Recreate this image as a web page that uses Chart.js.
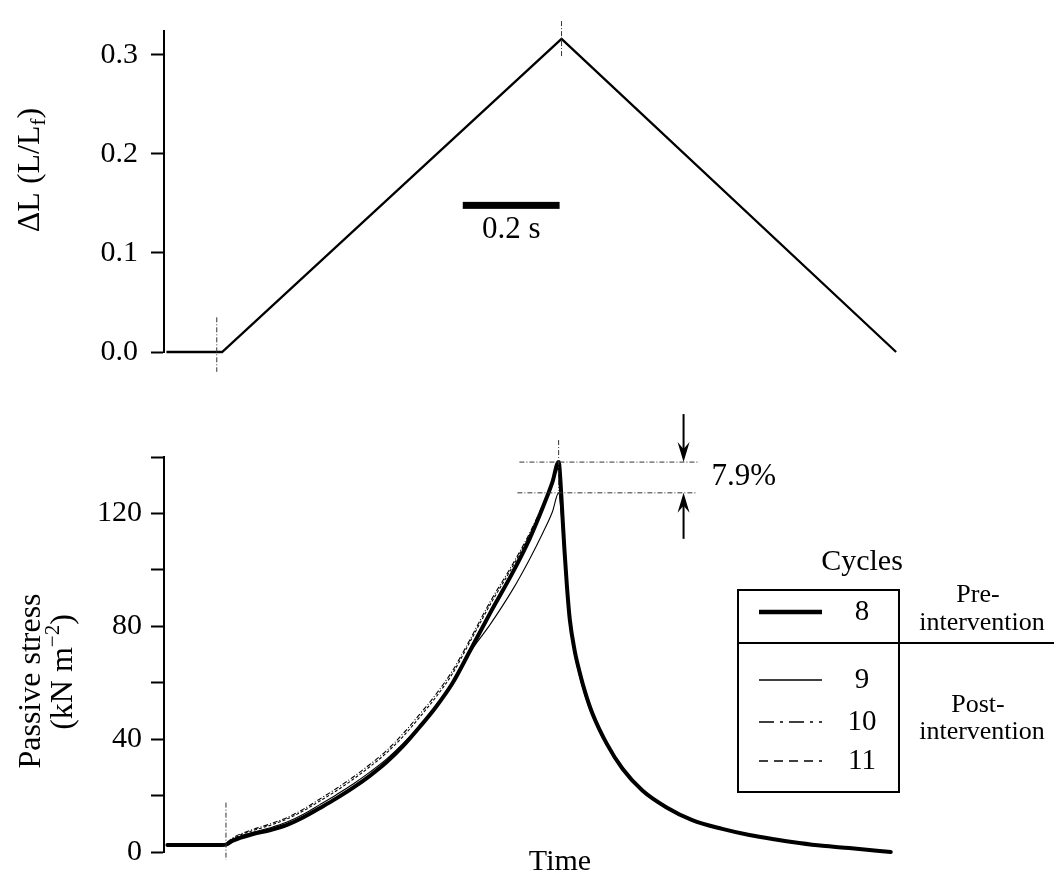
<!DOCTYPE html>
<html>
<head>
<meta charset="utf-8">
<script src="https://cdn.jsdelivr.net/npm/chart.js@4.4.0/dist/chart.umd.min.js"></script>
<style>
  html, body { margin: 0; padding: 0; background: #fff; }
  #wrap { position: relative; width: 1054px; height: 880px; }
  .panel { position: absolute; left: 0; width: 1054px; }
  #top { top: 0; height: 400px; }
  #bottom { top: 400px; height: 480px; }
</style>
</head>
<body>
<div id="wrap">
  <div class="panel" id="top"><canvas id="lengthChart"></canvas></div>
  <div class="panel" id="bottom"><canvas id="stressChart"></canvas></div>
</div>
<script>
// ---- Length step (upper panel) ----
const lengthTime   = [-0.115, 0.000, 0.701, 1.392];   // s
const lengthValues = [0.000, 0.000, 0.316, 0.000];     // ΔL (L/Lf)
const lengthTicks  = [0, 0.1, 0.2, 0.3];

// ---- Passive stress (lower panel), kN m^-2 ----
const stressTime = [-0.113, 0.000, 0.008, 0.022, 0.037, 0.064, 0.100, 0.134, 0.168, 0.202,
                    0.236, 0.270, 0.305, 0.340, 0.374, 0.408, 0.442, 0.476, 0.511, 0.553,
                    0.600, 0.635, 0.662, 0.682, 0.695, 0.700, 0.703, 0.707, 0.712, 0.718,
                    0.728, 0.738, 0.750, 0.765, 0.794, 0.827, 0.868, 0.918, 0.971, 1.033,
                    1.089, 1.140, 1.192, 1.240, 1.295, 1.381];
const cycle8  = [2.5, 2.5, 2.6, 4.0, 5.0, 6.4, 7.8, 9.6, 12.3, 15.6,
                 19.0, 22.7, 27.0, 31.9, 37.6, 44.3, 51.5, 59.9, 71.0, 84.5,
                 99.0, 111.0, 122.0, 131.0, 138.2, 128.0, 118.8, 107.1, 94.5, 82.5,
                 71.5, 64.0, 56.5, 49.0, 38.5, 29.5, 21.8, 15.8, 11.3, 8.2,
                 6.0, 4.5, 3.2, 2.2, 1.4, 0.0];
const cycle9  = [2.8, 2.8, 3.0, 4.5, 5.6, 7.0, 8.6, 10.6, 13.4, 16.8,
                 20.3, 24.0, 28.3, 33.0, 38.5, 44.8, 51.6, 59.5, 70.5, 80.5,
                 93.0, 103.8, 113.0, 120.5, 127.3, 121.0, 114.0, 104.0, 92.5, 80.5,
                 70.0, 62.5, 55.2, 48.0, 37.8, 29.0, 21.4, 15.5, 11.1, 8.1,
                 5.9, 4.4, 3.1, 2.1, 1.3, 0.0];
const cycle10 = [2.9, 2.9, 3.2, 5.0, 6.3, 8.0, 10.0, 12.2, 15.2, 18.8,
                 22.5, 26.5, 31.0, 36.0, 42.0, 48.8, 56.0, 64.3, 75.0, 88.5,
                 102.0, 113.0, 123.0, 131.5, 137.6, 127.5, 118.0, 106.5, 94.2, 82.3,
                 71.4, 63.9, 56.4, 48.9, 38.4, 29.4, 21.7, 15.8, 11.2, 8.2,
                 6.0, 4.5, 3.2, 2.2, 1.4, 0.0];
const cycle11 = [2.7, 2.7, 3.1, 4.7, 6.0, 7.6, 9.5, 11.7, 14.6, 18.1,
                 21.7, 25.7, 30.2, 35.2, 41.0, 47.8, 55.0, 63.3, 74.2, 87.5,
                 101.2, 112.4, 122.6, 131.2, 137.9, 127.8, 118.4, 106.8, 94.4, 82.4,
                 71.5, 64.0, 56.5, 49.0, 38.5, 29.5, 21.8, 15.8, 11.3, 8.2,
                 6.0, 4.5, 3.2, 2.2, 1.4, 0.0];
const stressTicks  = [0, 20, 40, 60, 80, 100, 120, 140];
const stressLabels = ['0', '', '40', '', '80', '', '120', ''];
const cycleNames   = ['8', '9', '10', '11'];

const SERIF = '"Liberation Serif", "Times New Roman", serif';
const FS = 30;        // tick labels, axis text
const FS_TITLE = 32;  // rotated axis titles
const FS_SIDE = 26;   // legend group notes
const X_MIN = -0.12, X_MAX = 1.40;

function pts(xs, ys) { return xs.map((x, i) => ({ x: x, y: ys[i] })); }

// text made of runs of different size / vertical shift (sub/superscripts)
function drawRich(ctx, parts, cx, cy, rotate) {
  ctx.save();
  ctx.translate(cx, cy);
  if (rotate) ctx.rotate(-Math.PI / 2);
  let total = 0;
  parts.forEach(p => { ctx.font = p.size + 'px ' + SERIF; p.w = ctx.measureText(p.text).width; total += p.w; });
  let x = -total / 2;
  ctx.fillStyle = '#000';
  ctx.textAlign = 'left';
  ctx.textBaseline = 'alphabetic';
  parts.forEach(p => {
    ctx.font = p.size + 'px ' + SERIF;
    ctx.fillText(p.text, x, 10 + (p.dy || 0));
    x += p.w;
  });
  ctx.restore();
}

function text(ctx, str, x, y, align, size) {
  ctx.save();
  ctx.font = (size || FS) + 'px ' + SERIF;
  ctx.fillStyle = '#000';
  ctx.textAlign = align || 'center';
  ctx.textBaseline = 'middle';
  ctx.fillText(str, x, y);
  ctx.restore();
}

function dashDot(ctx, x1, y1, x2, y2) {
  ctx.save();
  ctx.strokeStyle = '#333';
  ctx.lineWidth = 1;
  ctx.setLineDash([5, 2, 1, 2]);
  ctx.beginPath();
  ctx.moveTo(x1, y1);
  ctx.lineTo(x2, y2);
  ctx.stroke();
  ctx.restore();
}

function arrow(ctx, x, yFrom, yTo) {
  const dir = yTo > yFrom ? 1 : -1;
  ctx.save();
  ctx.strokeStyle = '#000';
  ctx.fillStyle = '#000';
  ctx.lineWidth = 2;
  ctx.beginPath();
  ctx.moveTo(x, yFrom);
  ctx.lineTo(x, yTo - dir * 10);
  ctx.stroke();
  ctx.beginPath();
  ctx.moveTo(x, yTo);
  ctx.lineTo(x - 6, yTo - dir * 20);
  ctx.lineTo(x, yTo - dir * 13);
  ctx.lineTo(x + 6, yTo - dir * 20);
  ctx.closePath();
  ctx.fill();
  ctx.restore();
}

function yAxis(min, max, tickList, labelFn, pad) {
  return {
    type: 'linear', min: min, max: max,
    afterBuildTicks: s => { s.ticks = tickList.map(v => ({ value: v })); },
    afterFit: s => { s.width = 164; },
    border: { display: true, color: '#000', width: 2 },
    grid: { display: true, drawOnChartArea: false, drawTicks: true, tickLength: 13, tickWidth: 2, tickColor: '#000' },
    ticks: { color: '#000', padding: pad, font: { family: SERIF, size: FS }, callback: labelFn }
  };
}

const xAxis = { type: 'linear', display: false, min: X_MIN, max: X_MAX };

// ---- upper panel decorations ----
const lengthDecor = {
  id: 'lengthDecor',
  afterDatasetsDraw(chart) {
    const ctx = chart.ctx, xs = chart.scales.x, ys = chart.scales.y;
    // onset and peak markers
    const xOn = xs.getPixelForValue(-0.011);
    dashDot(ctx, xOn, ys.getPixelForValue(0.035), xOn, ys.getPixelForValue(-0.020));
    const peakT = lengthTime[2];
    const xPk = xs.getPixelForValue(peakT);
    dashDot(ctx, xPk, ys.getPixelForValue(0.334), xPk, ys.getPixelForValue(0.297));
    // 0.2 s time scale bar
    const x0 = xs.getPixelForValue(0.497), x1 = xs.getPixelForValue(0.697);
    const yb = ys.getPixelForValue(0.148);
    ctx.save();
    ctx.fillStyle = '#000';
    ctx.fillRect(x0, yb - 3.5, x1 - x0, 7);
    ctx.restore();
    text(ctx, '0.2 s', (x0 + x1) / 2, yb + 24, 'center', 31);
    // y title
    drawRich(ctx, [
      { text: 'ΔL (L/L', size: FS_TITLE },
      { text: 'f', size: 21, dy: 6 },
      { text: ')', size: FS_TITLE }
    ], 29, 170, true);
  }
};

// ---- lower panel decorations ----
const stressDecor = {
  id: 'stressDecor',
  afterDatasetsDraw(chart) {
    const ctx = chart.ctx, xs = chart.scales.x, ys = chart.scales.y;
    const p8 = Math.max.apply(null, cycle8);
    const p9 = Math.max.apply(null, cycle9);
    const tPk = stressTime[cycle8.indexOf(p8)];

    const xOn = xs.getPixelForValue(0.008);
    dashDot(ctx, xOn, ys.getPixelForValue(17.5), xOn, ys.getPixelForValue(-2.8));
    const xPk = xs.getPixelForValue(tPk);
    dashDot(ctx, xPk, ys.getPixelForValue(146), xPk, ys.getPixelForValue(128));

    // peak difference between pre- and post-intervention
    const xa = xs.getPixelForValue(0.614), xb = xs.getPixelForValue(0.986);
    const y8 = ys.getPixelForValue(p8), y9 = ys.getPixelForValue(p9);
    dashDot(ctx, xa, y8, xb, y8);
    dashDot(ctx, xa - 2, y9, xb - 3, y9);
    const xArr = xs.getPixelForValue(0.953);
    arrow(ctx, xArr, y8 - 48, y8);
    arrow(ctx, xArr, y9 + 46, y9);
    const drop = ((p8 - p9) / p8 * 100).toFixed(1) + '%';
    text(ctx, drop, xArr + 28, (y8 + y9) / 2 - 1, 'left', 31);

    // x title
    text(ctx, 'Time', 560, 462);

    // y title
    drawRich(ctx, [{ text: 'Passive stress', size: FS_TITLE }], 30, 281, true);
    drawRich(ctx, [
      { text: '(kN m', size: FS_TITLE },
      { text: '−2', size: 21, dy: -13 },
      { text: ')', size: FS_TITLE }
    ], 62, 272, true);

    // legend
    text(ctx, 'Cycles', 862, 162);
    ctx.save();
    ctx.strokeStyle = '#000';
    ctx.lineWidth = 2;
    ctx.strokeRect(738, 190, 161, 202);
    ctx.beginPath();
    ctx.moveTo(738, 243);
    ctx.lineTo(1054, 243);
    ctx.stroke();
    ctx.restore();
    const rowsY = [212, 280, 322, 361];
    cycleNames.forEach((name, i) => {
      const ds = chart.data.datasets.find(d => d.label === name);
      ctx.save();
      ctx.strokeStyle = '#000';
      ctx.lineWidth = Math.max(ds.borderWidth, 1.6) + (i === 0 ? 0.5 : 0);
      ctx.setLineDash((ds.borderDash || []).map(v => v * 3));
      ctx.beginPath();
      ctx.moveTo(759, rowsY[i]);
      ctx.lineTo(822, rowsY[i]);
      ctx.stroke();
      ctx.restore();
      text(ctx, name, 862, rowsY[i], 'center', 29);
    });
    text(ctx, 'Pre-', 978, 195, 'center', FS_SIDE);
    text(ctx, 'intervention', 982, 223, 'center', FS_SIDE);
    text(ctx, 'Post-', 978, 305, 'center', FS_SIDE);
    text(ctx, 'intervention', 982, 332, 'center', FS_SIDE);
  }
};

new Chart(document.getElementById('lengthChart'), {
  type: 'line',
  data: {
    datasets: [{
      label: 'ΔL',
      data: pts(lengthTime, lengthValues),
      borderColor: '#000', borderWidth: 2.3, pointRadius: 0, tension: 0, clip: false
    }]
  },
  options: {
    responsive: true, maintainAspectRatio: false, animation: false, events: [],
    layout: { padding: { top: 28, bottom: 48, left: 0, right: 154 } },
    plugins: { legend: { display: false }, tooltip: { enabled: false } },
    scales: {
      x: xAxis,
      y: yAxis(0, 0.324, lengthTicks, v => v.toFixed(1), 13)
    }
  },
  plugins: [lengthDecor]
});

const curve = { borderColor: '#000', pointRadius: 0, cubicInterpolationMode: 'monotone', clip: false };

new Chart(document.getElementById('stressChart'), {
  type: 'line',
  data: {
    datasets: [
      Object.assign({ label: '9',  data: pts(stressTime, cycle9),  borderWidth: 1.1 }, curve),
      Object.assign({ label: '10', data: pts(stressTime, cycle10), borderWidth: 1.1, borderDash: [5, 2, 1, 2] }, curve),
      Object.assign({ label: '11', data: pts(stressTime, cycle11), borderWidth: 1.1, borderDash: [3, 2] }, curve),
      Object.assign({ label: '8',  data: pts(stressTime, cycle8),  borderWidth: 4, borderJoinStyle: 'round', borderCapStyle: 'round' }, curve)
    ]
  },
  options: {
    responsive: true, maintainAspectRatio: false, animation: false, events: [],
    layout: { padding: { top: 57, bottom: 28, left: 0, right: 154 } },
    plugins: { legend: { display: false }, tooltip: { enabled: false } },
    scales: {
      x: xAxis,
      y: yAxis(0, 140, stressTicks, v => stressLabels[stressTicks.indexOf(v)], 9)
    }
  },
  plugins: [stressDecor]
});
</script>
</body>
</html>
